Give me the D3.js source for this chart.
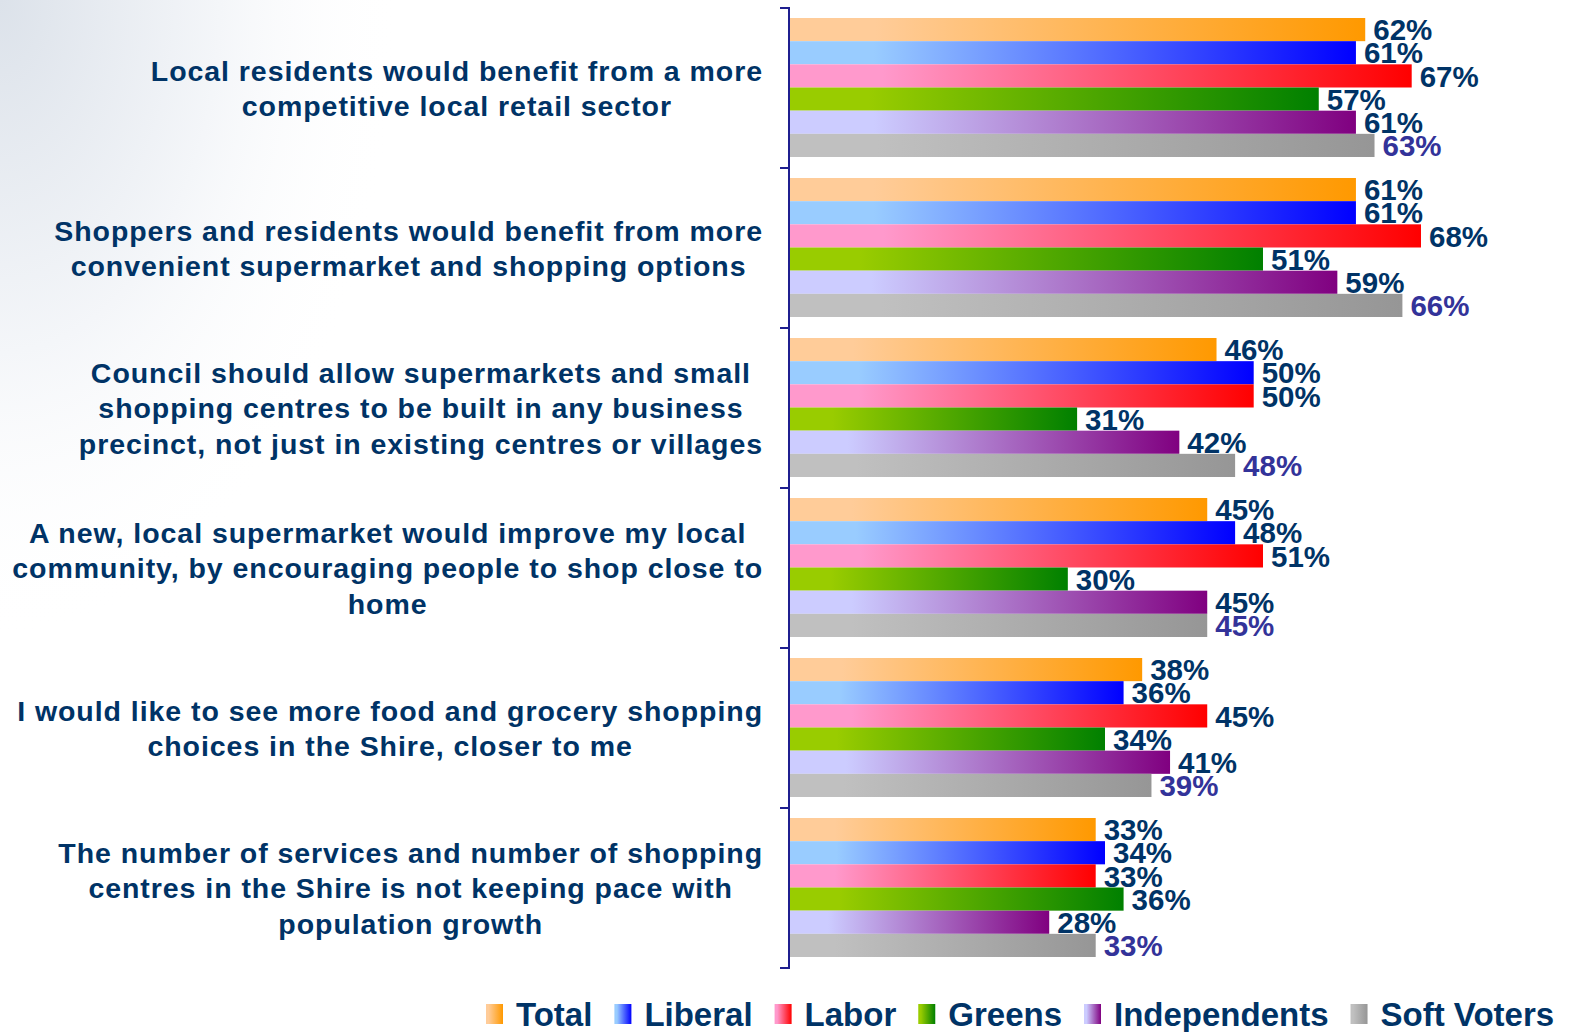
<!DOCTYPE html>
<html>
<head>
<meta charset="utf-8">
<script src="https://cdn.jsdelivr.net/npm/d3@7"></script>
<style>
  html, body { margin: 0; padding: 0; background: #ffffff; }
  svg { display: block; font-family: "Liberation Sans", Arial, sans-serif; }
</style>
</head>
<body>
<svg id="chart" width="1570" height="1032"></svg>
<script>
// Statements (one bar group each), top to bottom
const statements = [
  ["Local residents would benefit from a more", "competitive local retail sector"],
  ["Shoppers and residents would benefit from more", "convenient supermarket and shopping options"],
  ["Council should allow supermarkets and small", "shopping centres to be built in any business", "precinct, not just in existing centres or villages"],
  ["A new, local supermarket would improve my local", "community, by encouraging people to shop close to", "home"],
  ["I would like to see more food and grocery shopping", "choices in the Shire, closer to me"],
  ["The number of services and number of shopping", "centres in the Shire is not keeping pace with", "population growth"]
];

// Voter groups (series)
const seriesNames = ["Total", "Liberal", "Labor", "Greens", "Independents", "Soft Voters"];

// Percentage agreeing, per series, in statement order
const totalVals       = [62, 61, 46, 45, 38, 33];
const liberalVals     = [61, 61, 50, 48, 36, 34];
const laborVals       = [67, 68, 50, 51, 45, 33];
const greensVals      = [57, 51, 31, 30, 34, 36];
const independentVals = [61, 59, 42, 45, 41, 28];
const softVoterVals   = [63, 66, 48, 45, 39, 33];

const seriesValues = [totalVals, liberalVals, laborVals, greensVals, independentVals, softVoterVals];

// Gradient colours per series: light start, saturated end
const lightColors = ["#FFCC99", "#99CCFF", "#FF99CC", "#99CC00", "#CCCCFF", "#C0C0C0"];
const darkColors  = ["#FF9900", "#0000FF", "#FF0000", "#008000", "#800080", "#969696"];
const labelColors = ["#003366", "#003366", "#003366", "#003366", "#003366", "#333399"];

const svg = d3.select("#chart");
const defs = svg.append("defs");

// Soft grey-blue wash in the top-left corner of the slide
const bg = defs.append("radialGradient")
  .attr("id", "bgWash").attr("cx", "0").attr("cy", "0").attr("r", "1")
  .attr("gradientUnits", "objectBoundingBox");
bg.append("stop").attr("offset", "0").attr("stop-color", "#DCE2EA");
bg.append("stop").attr("offset", "0.55").attr("stop-color", "#F4F6F9");
bg.append("stop").attr("offset", "1").attr("stop-color", "#FFFFFF").attr("stop-opacity", 0);
svg.append("rect").attr("x", 0).attr("y", 0).attr("width", 400).attr("height", 640)
  .attr("fill", "url(#bgWash)");

seriesNames.forEach((s, i) => {
  const g = defs.append("linearGradient")
    .attr("id", "grad" + i).attr("x1", "0").attr("x2", "1").attr("y1", "0").attr("y2", "0");
  g.append("stop").attr("offset", "0").attr("stop-color", lightColors[i]);
  g.append("stop").attr("offset", "0.15").attr("stop-color", lightColors[i]);
  g.append("stop").attr("offset", "1").attr("stop-color", darkColors[i]);
});

// Scales
const x = d3.scaleLinear().domain([0, 100]).range([789, 1718.4]);
const y0 = d3.scaleBand().domain(d3.range(statements.length)).range([8, 968]).padding(0);
const y1 = d3.scaleBand().domain(d3.range(seriesNames.length)).range([10, 149]).padding(0);

// Bars
const groups = svg.append("g").selectAll("g.group")
  .data(statements.map((lines, gi) => ({ gi, lines })))
  .join("g")
  .attr("class", "group")
  .attr("transform", d => `translate(0,${y0(d.gi)})`);

groups.selectAll("rect.bar")
  .data(d => seriesNames.map((s, si) => ({ si, v: seriesValues[si][d.gi] })))
  .join("rect")
  .attr("class", "bar")
  .attr("x", x(0))
  .attr("y", d => y1(d.si))
  .attr("width", d => x(d.v) - x(0))
  .attr("height", y1.bandwidth())
  .attr("fill", d => `url(#grad${d.si})`);

groups.selectAll("text.val")
  .data(d => seriesNames.map((s, si) => ({ si, v: seriesValues[si][d.gi] })))
  .join("text")
  .attr("class", "val")
  .attr("x", d => x(d.v) + 8)
  .attr("y", d => y1(d.si) + y1.bandwidth() / 2)
  .attr("dy", "0.36em")
  .attr("font-size", 29.5)
  .attr("font-weight", "bold")
  .attr("fill", d => labelColors[d.si])
  .text(d => d.v + "%");

// Category axis: vertical line with ticks at band boundaries
const axisColor = "#1F1F8F";
svg.append("line")
  .attr("x1", 789).attr("x2", 789)
  .attr("y1", y0.range()[0]).attr("y2", y0.range()[1])
  .attr("stroke", axisColor).attr("stroke-width", 2);
const tickYs = d3.range(statements.length + 1).map(i => y0.range()[0] + i * y0.step());
svg.append("g").selectAll("line")
  .data(tickYs)
  .join("line")
  .attr("x1", 780).attr("x2", 790)
  .attr("y1", d => d).attr("y2", d => d)
  .attr("stroke", axisColor).attr("stroke-width", 2);

// Statement labels: centred lines, block right-aligned to the axis
const lineH = 35.5;
groups.each(function(d) {
  const lab = d3.select(this).append("g");
  const n = d.lines.length;
  d.lines.forEach((t, li) => {
    lab.append("text")
      .attr("x", 0)
      .attr("y", y0.bandwidth() / 2 + (li - (n - 1) / 2) * lineH)
      .attr("dy", "0.36em")
      .attr("text-anchor", "middle")
      .attr("font-size", 28.5)
      .attr("font-weight", "bold")
      .attr("letter-spacing", "0.95px")
      .attr("fill", "#003366")
      .text(t);
  });
  const bb = lab.node().getBBox();
  lab.attr("transform", `translate(${763 - (bb.x + bb.width)},0)`);
});

// Legend
const legend = svg.append("g").attr("transform", "translate(0,1014)");
let lx = 486;
seriesNames.forEach((s, i) => {
  legend.append("rect")
    .attr("x", lx).attr("y", -10).attr("width", 17).attr("height", 20)
    .attr("fill", `url(#grad${i})`);
  const t = legend.append("text")
    .attr("x", lx + 30).attr("y", 0).attr("dy", "0.36em")
    .attr("font-size", 33).attr("font-weight", "bold")
    .attr("fill", "#003366")
    .text(s);
  lx += 30 + t.node().getComputedTextLength() + 22;
});
</script>
</body>
</html>
